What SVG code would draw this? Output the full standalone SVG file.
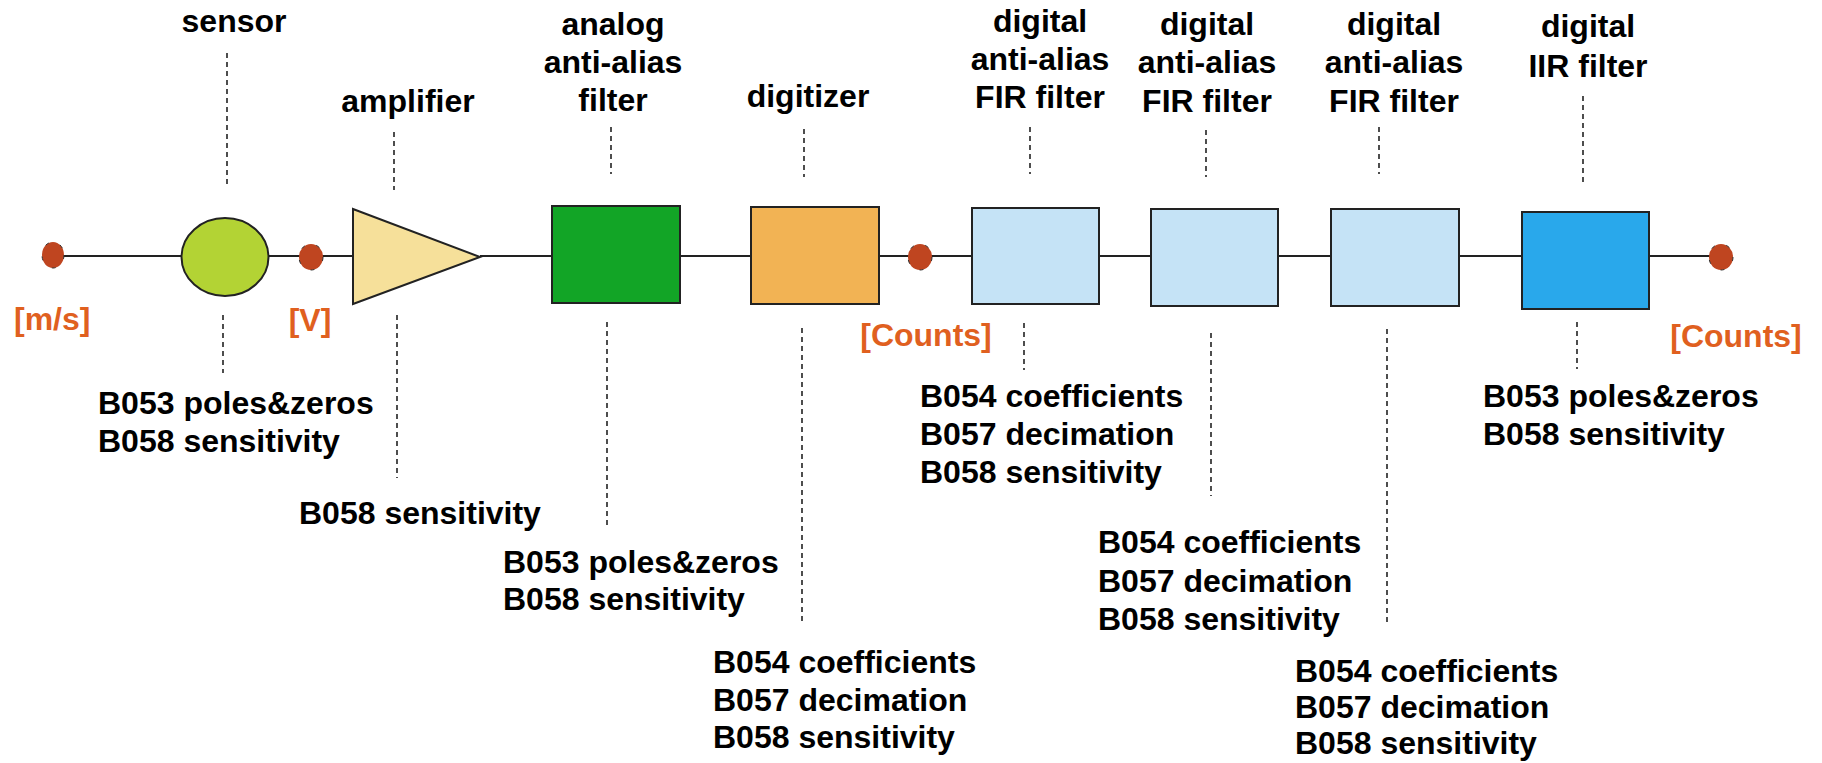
<svg xmlns="http://www.w3.org/2000/svg" width="1822" height="763" viewBox="0 0 1822 763">
<style>
text{font-family:"Liberation Sans",Arial,Helvetica,sans-serif;font-weight:bold;font-size:32px;fill:#000}
.c{text-anchor:middle}
.u{fill:#E0601F}
.lead{stroke:#222;stroke-width:1.6;stroke-dasharray:5 4;fill:none}
.wire{stroke:#222;stroke-width:2;fill:none}
.box{stroke:#222;stroke-width:2}
.dot{fill:#BF4520;stroke:#333;stroke-width:1;stroke-dasharray:4 12}
</style>
<rect width="1822" height="763" fill="#fff"/>
<g id="connectors">
<path class="wire" d="M53 256H182M269 256H353M480 256H552M680 256H751M879 256H972M1099 256H1151M1278 256H1331M1459 256H1522M1649 256H1721"/>
<path class="lead" d="M227 53V187M223 315V373M394 132V190M397 315V478M611 127V174M607 322V527M804 129V177M802 328V622M1030 127V174M1024 323V370M1206 130V177M1211 333V496M1379 127V174M1387 329V623M1583 96V185M1577 322V369"/>
</g>
<g id="n-in">
<ellipse class="dot" cx="53" cy="255" rx="11" ry="13"/>
<text class="u" x="14" y="330">[m/s]</text>
</g>
<g id="n-sensor">
<ellipse cx="225" cy="257" rx="43.5" ry="39" fill="#B3D334" class="box"/>
<text class="c" x="234" y="32">sensor</text>
<text x="98" y="414">B053 poles&amp;zeros</text>
<text x="98" y="452">B058 sensitivity</text>
</g>
<g id="n-v">
<ellipse class="dot" cx="311" cy="257" rx="12" ry="13"/>
<text class="u c" x="310" y="331">[V]</text>
</g>
<g id="n-amplifier">
<polygon points="353,209 480,257 353,304" fill="#F6E09A" class="box"/>
<text class="c" x="408" y="112">amplifier</text>
<text x="299" y="524">B058 sensitivity</text>
</g>
<g id="n-analog">
<rect x="552" y="206" width="128" height="97" fill="#12A526" class="box"/>
<text class="c" x="613" y="35">analog</text>
<text class="c" x="613" y="73">anti-alias</text>
<text class="c" x="613" y="111">filter</text>
<text x="503" y="573">B053 poles&amp;zeros</text>
<text x="503" y="610">B058 sensitivity</text>
</g>
<g id="n-digitizer">
<rect x="751" y="207" width="128" height="97" fill="#F2B354" class="box"/>
<text class="c" x="808" y="107">digitizer</text>
<text x="713" y="673">B054 coefficients</text>
<text x="713" y="711">B057 decimation</text>
<text x="713" y="748">B058 sensitivity</text>
</g>
<g id="n-counts">
<ellipse class="dot" cx="920" cy="257" rx="12" ry="13"/>
<text class="u c" x="926" y="346">[Counts]</text>
</g>
<g id="n-fir1">
<rect x="972" y="208" width="127" height="96" fill="#C5E3F6" class="box"/>
<text class="c" x="1040" y="32">digital</text>
<text class="c" x="1040" y="70">anti-alias</text>
<text class="c" x="1040" y="108">FIR filter</text>
<text x="920" y="407">B054 coefficients</text>
<text x="920" y="445">B057 decimation</text>
<text x="920" y="483">B058 sensitivity</text>
</g>
<g id="n-fir2">
<rect x="1151" y="209" width="127" height="97" fill="#C5E3F6" class="box"/>
<text class="c" x="1207" y="35">digital</text>
<text class="c" x="1207" y="73">anti-alias</text>
<text class="c" x="1207" y="112">FIR filter</text>
<text x="1098" y="553">B054 coefficients</text>
<text x="1098" y="592">B057 decimation</text>
<text x="1098" y="630">B058 sensitivity</text>
</g>
<g id="n-fir3">
<rect x="1331" y="209" width="128" height="97" fill="#C5E3F6" class="box"/>
<text class="c" x="1394" y="35">digital</text>
<text class="c" x="1394" y="73">anti-alias</text>
<text class="c" x="1394" y="112">FIR filter</text>
<text x="1295" y="682">B054 coefficients</text>
<text x="1295" y="718">B057 decimation</text>
<text x="1295" y="754">B058 sensitivity</text>
</g>
<g id="n-iir">
<rect x="1522" y="212" width="127" height="97" fill="#29A8EB" class="box"/>
<text class="c" x="1588" y="37">digital</text>
<text class="c" x="1588" y="77">IIR filter</text>
<text x="1483" y="407">B053 poles&amp;zeros</text>
<text x="1483" y="445">B058 sensitivity</text>
</g>
<g id="n-out">
<ellipse class="dot" cx="1721" cy="257" rx="12" ry="13"/>
<text class="u c" x="1736" y="347">[Counts]</text>
</g>
</svg>
